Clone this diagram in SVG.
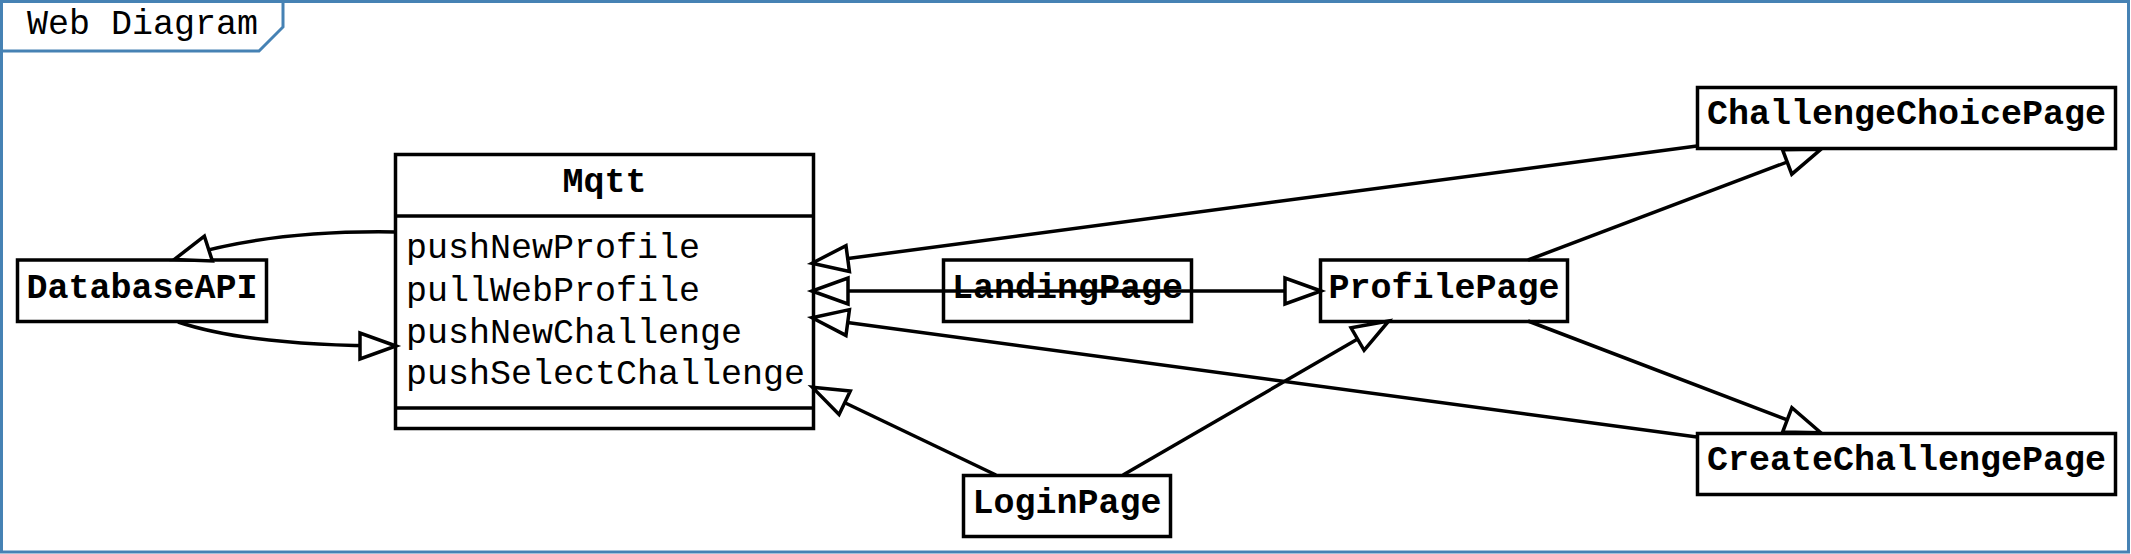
<svg xmlns="http://www.w3.org/2000/svg" width="2131" height="554" viewBox="0 0 2131 554">
<defs>
<style>
.frame{fill:#fff;stroke:#4682B4;stroke-width:3}
.tab{fill:none;stroke:#4682B4;stroke-width:3}
.box{fill:#fff;stroke:#000;stroke-width:3.5}
.div{stroke:#000;stroke-width:3.5}
.name{font-family:"Courier New","Nimbus Mono PS","FreeMono","Liberation Mono",monospace;font-size:35px;font-weight:bold;fill:#000;text-anchor:middle}
.op{font-family:"Courier New","Nimbus Mono PS","FreeMono","Liberation Mono",monospace;font-size:35px;fill:#000}
.title{font-family:"Courier New","Nimbus Mono PS","FreeMono","Liberation Mono",monospace;font-size:35px;fill:#000}
.edge{fill:none;stroke:#000;stroke-width:3.5;marker-end:url(#tri)}
</style>
<marker id="tri" markerUnits="userSpaceOnUse" markerWidth="50" markerHeight="40" viewBox="-6 -7 50 40" refX="34" refY="13" orient="auto">
<path d="M36,13 L0,0 L0,26 Z" fill="#fff" stroke="#000" stroke-width="3.5"/>
</marker>
</defs>
<rect class="frame" x="1.5" y="1.5" width="2127" height="550.5"/>
<path class="tab" d="M1.5,51 L259,51 L283,27 L283,1.5"/>
<text class="title" x="27" y="34">Web Diagram</text>

<g id="DatabaseAPI">
<rect class="box" x="17.5" y="260" width="249" height="61.5"/>
<text class="name" x="142" y="298">DatabaseAPI</text>
</g>
<g id="Mqtt">
<rect class="box" x="395.5" y="154.5" width="418" height="274"/>
<line class="div" x1="395.5" y1="216" x2="813.5" y2="216"/>
<line class="div" x1="395.5" y1="408" x2="813.5" y2="408"/>
<text class="name" x="604.5" y="192">Mqtt</text>
<text class="op" x="406" y="258">pushNewProfile</text>
<text class="op" x="406" y="301">pullWebProfile</text>
<text class="op" x="406" y="343">pushNewChallenge</text>
<text class="op" x="406" y="384">pushSelectChallenge</text>
</g>
<g id="LandingPage">
<rect class="box" x="943.5" y="260" width="248" height="61.5"/>
<text class="name" x="1067.5" y="298">LandingPage</text>
</g>
<g id="ProfilePage">
<rect class="box" x="1320.5" y="260" width="247" height="61.5"/>
<text class="name" x="1444" y="298">ProfilePage</text>
</g>
<g id="ChallengeChoicePage">
<rect class="box" x="1697.5" y="87.5" width="418" height="61"/>
<text class="name" x="1906.5" y="124">ChallengeChoicePage</text>
</g>
<g id="CreateChallengePage">
<rect class="box" x="1697.5" y="433.5" width="418" height="61"/>
<text class="name" x="1906.5" y="470">CreateChallengePage</text>
</g>
<g id="LoginPage">
<rect class="box" x="963.5" y="475.5" width="207" height="61"/>
<text class="name" x="1067" y="513">LoginPage</text>
</g>

<g id="connectors">
<path class="edge" d="M395,232 Q266,230 176,259"/>
<path class="edge" d="M178,322 Q250,346 394,346"/>
<path class="edge" d="M1697,146 L814,263"/>
<path class="edge" d="M1067,291 L814,291"/>
<path class="edge" d="M1067,291 L1319,291"/>
<path class="edge" d="M1697,437 L814,318"/>
<path class="edge" d="M996,475 L814,388"/>
<path class="edge" d="M1123,475 L1387,322"/>
<path class="edge" d="M1528,260 L1819,150"/>
<path class="edge" d="M1528,321 L1819,432"/>
</g>
</svg>
